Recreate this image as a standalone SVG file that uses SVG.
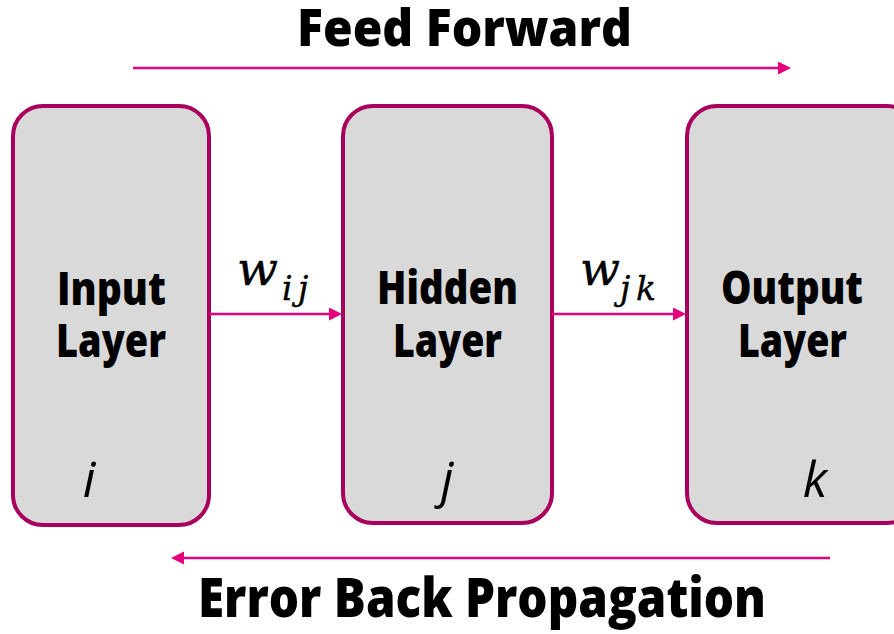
<svg xmlns="http://www.w3.org/2000/svg" width="894" height="634" viewBox="0 0 894 634">
<style>
.box{fill:#D9D9D9;stroke:#A8005C;stroke-width:4}
.lbl{font-family:"Open Sans","Noto Sans",sans-serif;font-weight:800;fill:#000;text-anchor:middle}
.idx{font-family:"Open Sans","Noto Sans",sans-serif;font-style:italic;fill:#000;text-anchor:middle;font-size:50px}
.math{font-family:"DejaVu Serif",serif;font-style:italic;fill:#000;stroke:#000;stroke-width:0.4}
.conn{stroke:#E6007E;stroke-width:2.5;fill:none}
</style>
<defs>
<marker id="ah" markerUnits="userSpaceOnUse" markerWidth="14" markerHeight="14" refX="6" refY="6.5" orient="auto">
<path d="M0,0 L13,6.5 L0,13 z" fill="#E6007E"/>
</marker>
</defs>
<rect width="894" height="634" fill="#fff"/>
<text class="lbl" x="464.5" y="46" font-size="52" textLength="335" lengthAdjust="spacingAndGlyphs">Feed Forward</text>
<text class="lbl" x="482" y="617" font-size="55" textLength="568" lengthAdjust="spacingAndGlyphs">Error Back Propagation</text>
<g id="input">
<rect class="box" x="13" y="106" width="196" height="419" rx="30"/>
<text class="lbl" x="111.5" y="305" font-size="46" textLength="109" lengthAdjust="spacingAndGlyphs">Input</text>
<text class="lbl" x="111" y="357" font-size="46" textLength="110" lengthAdjust="spacingAndGlyphs">Layer</text>
<text class="idx" x="89" y="497">i</text>
</g>
<g id="hidden">
<rect class="box" x="343" y="106" width="209" height="417" rx="30"/>
<text class="lbl" x="447.5" y="304" font-size="46" textLength="141" lengthAdjust="spacingAndGlyphs">Hidden</text>
<text class="lbl" x="447.5" y="357" font-size="46" textLength="109" lengthAdjust="spacingAndGlyphs">Layer</text>
<text class="idx" x="447" y="497">j</text>
</g>
<g id="output">
<rect class="box" x="687" y="106" width="230" height="417" rx="30"/>
<text class="lbl" x="792" y="304" font-size="46" textLength="142" lengthAdjust="spacingAndGlyphs">Output</text>
<text class="lbl" x="792.5" y="357" font-size="46" textLength="109" lengthAdjust="spacingAndGlyphs">Layer</text>
<text class="idx" x="815" y="497">k</text>
</g>
<g id="connectors">
<line class="conn" x1="133" y1="68" x2="784" y2="68" marker-end="url(#ah)"/>
<line class="conn" x1="830" y1="558" x2="178" y2="558" marker-end="url(#ah)"/>
<line class="conn" x1="209" y1="314" x2="335" y2="314" marker-end="url(#ah)"/>
<line class="conn" x1="552" y1="314" x2="679" y2="314" marker-end="url(#ah)"/>
<text class="math" x="237" y="285" font-size="46" textLength="41" lengthAdjust="spacingAndGlyphs">w</text>
<text class="math" y="300" font-size="33"><tspan x="282">i</tspan><tspan x="298">j</tspan></text>
<text class="math" x="580" y="285" font-size="46" textLength="40" lengthAdjust="spacingAndGlyphs">w</text>
<text class="math" y="300" font-size="33"><tspan x="620">j</tspan><tspan x="636">k</tspan></text>
</g>
</svg>
